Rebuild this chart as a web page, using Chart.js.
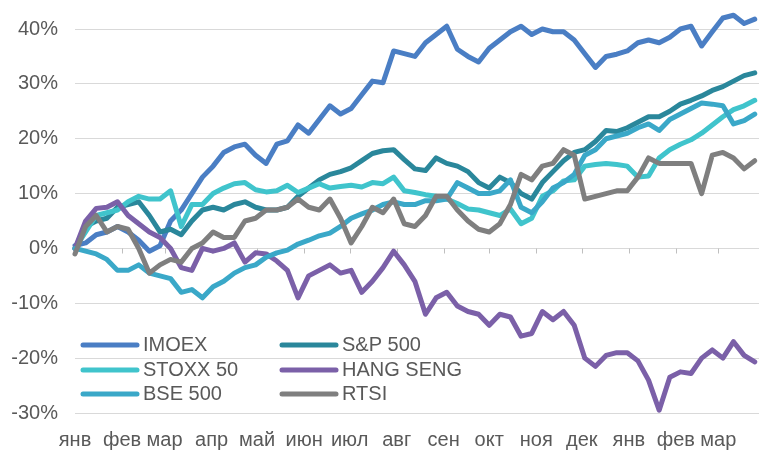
<!DOCTYPE html>
<html>
<head>
<meta charset="utf-8">
<script src="https://cdn.jsdelivr.net/npm/chart.js@4.4.0/dist/chart.umd.min.js"></script>
<style>
  html, body { margin: 0; padding: 0; background: #fff; }
  #chart { display: block; }
</style>
</head>
<body>
<canvas id="chart" width="759" height="450" style="width:759px;height:450px"></canvas>
<script>
// month labels on the time axis (two calendar years, Jan .. Mar)
const monthLabels = ['янв','фев','мар','апр','май','июн','июл','авг','сен','окт','ноя','дек','янв','фев','мар'];
const monthStartDays = [0, 31, 59, 90, 120, 151, 181, 212, 243, 273, 304, 334, 365, 396, 424];

// weekly cumulative returns, % (week 0 .. 64)
const imoex = [0.5, 1, 2.5, 3, 4, 3, 1.5, -0.5, 0.5, 5, 7, 10, 13, 15, 17.5, 18.5, 19, 17, 15.5, 19,
  19.6, 22.5, 21, 23.5, 26, 24.5, 25.5, 28, 30.5, 30.2, 36, 35.5, 35, 37.5, 39, 40.5, 36.3, 35, 34, 36.5,
  38, 39.5, 40.5, 39, 40, 39.5, 39.5, 38, 35.5, 33, 35, 35.4, 36, 37.5, 38, 37.5, 38.5, 40, 40.5, 36.9,
  39.5, 42, 42.5, 41, 41.8];
const sp500 = [0, 4, 5, 5.5, 7.5, 8, 8.5, 6, 3, 3.5, 2.5, 5, 7, 7.5, 7, 8, 8.5, 7.5, 7, 7,
  7.5, 9.5, 11, 12.5, 13.5, 14, 14.7, 16, 17.3, 17.8, 18, 16.2, 14.5, 14.2, 16.5, 15.5, 15, 14, 12, 11,
  13, 12, 10, 9, 12, 14, 16, 17.5, 18, 19.5, 21.5, 21.3, 22, 23, 24, 24, 25, 26.3, 27, 27.8,
  28.8, 29.5, 30.5, 31.5, 32];
const stoxx50 = [0, 3, 6, 6.5, 7, 8.5, 9.5, 9, 9, 10.5, 4, 8, 8, 10, 11, 11.8, 12, 10.7, 10.3, 10.5,
  11.5, 10.2, 11, 11.8, 11, 11.3, 11.5, 11.2, 12, 11.8, 13, 10.5, 10.2, 9.8, 9.5, 9, 8.2, 7.2, 7, 6.5,
  6, 7.2, 4.5, 5.5, 9.5, 10.5, 12.3, 12.5, 15, 15.3, 15.5, 15.3, 15, 13, 13.2, 16.5, 18, 19, 19.8, 21,
  22.5, 24, 25.3, 26, 27];
const hangSeng = [0, 5, 7.3, 7.5, 8.5, 6, 4.5, 3, 2, 0, -3.5, -4, 0, -0.5, 0, 1, -2.5, -0.8, -1, -2.3,
  -4, -9, -5, -4, -3, -4.5, -4, -8, -6, -3.5, -0.5, -3, -6, -12, -9, -8, -10.5, -11.5, -12, -14,
  -12, -12.5, -16, -15.5, -11.5, -13, -11.5, -14, -20, -21.5, -19.5, -19, -19, -20.5, -24, -29.5, -23.5, -22.5, -22.8, -20,
  -18.5, -20, -17, -19.5, -20.7];
const bse500 = [0, -0.5, -1, -2, -4, -4, -3, -4.5, -5, -5.5, -8, -7.5, -9, -7, -6, -4.5, -3.5, -3, -1.6, -0.8,
  -0.3, 0.8, 1.5, 2.3, 2.8, 4, 5.5, 6.3, 7, 8, 8.5, 8, 8, 8.7, 8.7, 9, 12, 11, 10, 10,
  10.5, 12.5, 7.5, 6.5, 8.5, 11, 12, 13.5, 17, 18, 20, 20.5, 21, 22, 22.7, 21.5, 23.5, 24.5, 25.5, 26.5,
  26.3, 26, 22.7, 23.3, 24.5];
const rtsi = [-1, 4, 6, 3, 4, 3.5, 0, -4.5, -3, -2, -2.5, 0, 1, 3, 2, 2, 5, 5.5, 7, 7,
  7.5, 9, 7.5, 7, 9, 5.5, 1, 4, 7.5, 6.5, 9, 4.5, 4, 6, 9.5, 9.5, 7, 5, 3.5, 3,
  4.5, 8, 13.5, 12.5, 15, 15.5, 18, 17, 9, 9.5, 10, 10.5, 10.5, 13, 16.5, 15.5, 15.5, 15.5, 15.5, 10,
  17, 17.5, 16.5, 14.5, 16];

const seriesNames = ['IMOEX', 'S&P 500', 'STOXX 50', 'HANG SENG', 'BSE 500', 'RTSI'];
const seriesValues = [imoex, sp500, stoxx50, hangSeng, bse500, rtsi];
const seriesColors = ['#4a7ec4', '#2a879b', '#40c4cc', '#7b60a8', '#3aa8c8', '#7f7f7f'];

const FONT = '"Liberation Sans", Arial, sans-serif';
const TEXT = '#595959';

// two-column legend inside the plot, lower left
const boxLegend = {
  id: 'boxLegend',
  afterDraw(chart) {
    const ctx = chart.ctx;
    const cols = [83, 282];
    const rows = [345, 370, 394];
    ctx.save();
    ctx.font = '20px ' + FONT;
    ctx.textBaseline = 'middle';
    ctx.textAlign = 'left';
    chart.data.datasets.forEach((ds, i) => {
      const x = cols[i % 2], y = rows[Math.floor(i / 2)];
      ctx.strokeStyle = ds.borderColor;
      ctx.lineWidth = 5;
      ctx.lineCap = 'round';
      ctx.beginPath();
      ctx.moveTo(x, y);
      ctx.lineTo(x + 54, y);
      ctx.stroke();
      ctx.fillStyle = TEXT;
      ctx.fillText(ds.label, x + 60, y);
    });
    ctx.restore();
  }
};

// small month tick marks hanging off the 0% line
const zeroTicks = {
  id: 'zeroTicks',
  beforeDatasetsDraw(chart) {
    const { ctx, scales: { x, y } } = chart;
    const y0 = Math.round(y.getPixelForValue(0)) + 0.5;
    ctx.save();
    ctx.strokeStyle = '#bfbfbf';
    ctx.lineWidth = 1;
    ctx.beginPath();
    x.ticks.forEach(t => {
      const px = Math.round(x.getPixelForValue(t.value)) + 0.5;
      ctx.moveTo(px, y0);
      ctx.lineTo(px, y0 + 5);
    });
    ctx.stroke();
    ctx.restore();
  }
};

new Chart(document.getElementById('chart'), {
  type: 'line',
  data: {
    datasets: seriesNames.map((name, k) => ({
      label: name,
      data: seriesValues[k].map((v, i) => ({ x: i, y: v })),
      borderColor: seriesColors[k],
      backgroundColor: seriesColors[k],
      borderWidth: 5,
      borderJoinStyle: 'round',
      borderCapStyle: 'round',
      pointRadius: 0,
      tension: 0,
      clip: false,
      order: seriesNames.length - k
    }))
  },
  options: {
    responsive: false,
    animation: false,
    devicePixelRatio: 1,
    layout: { padding: { top: 27, right: 0, bottom: 0, left: 0 } },
    plugins: {
      legend: { display: false },
      tooltip: { enabled: false }
    },
    scales: {
      x: {
        type: 'linear',
        min: 0,
        max: 64.4,
        afterBuildTicks: scale => {
          scale.ticks = monthStartDays.map(d => ({ value: d / 7 }));
        },
        afterFit: scale => { scale.height = 37; },
        grid: { display: false, drawTicks: false },
        border: { display: false },
        ticks: {
          autoSkip: false,
          maxRotation: 0,
          padding: 15,
          color: TEXT,
          font: { family: FONT, size: 20 },
          callback: (v, i) => monthLabels[i]
        }
      },
      y: {
        min: -30,
        max: 40,
        afterFit: scale => { scale.width = 75; },
        grid: { color: '#d9d9d9', lineWidth: 1, drawTicks: false },
        border: { display: false },
        ticks: {
          stepSize: 10,
          padding: 17,
          color: TEXT,
          font: { family: FONT, size: 20 },
          callback: v => v + '%'
        }
      }
    }
  },
  plugins: [zeroTicks, boxLegend]
});
</script>
</body>
</html>
